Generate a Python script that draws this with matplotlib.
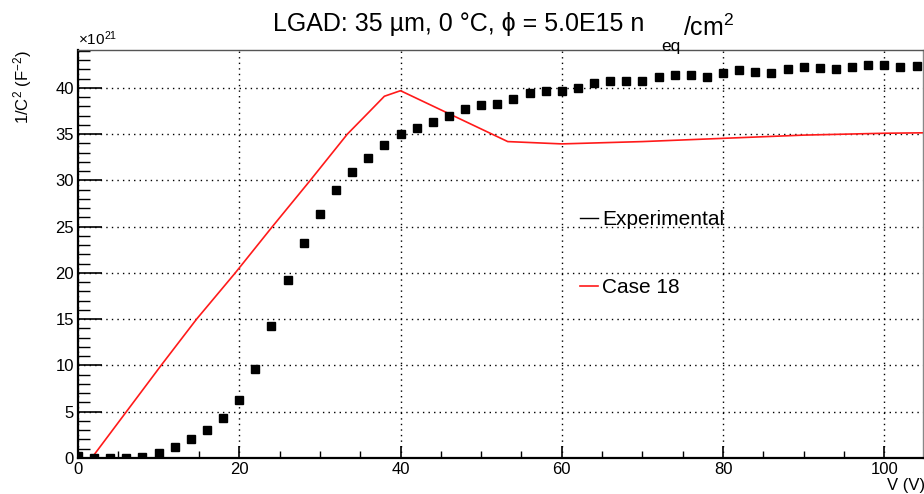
import matplotlib
matplotlib.use("Agg")
import matplotlib.pyplot as plt
from matplotlib.lines import Line2D
from matplotlib.ticker import MultipleLocator

plt.rcParams['font.family'] = ['Liberation Sans', 'DejaVu Sans']
plt.rcParams['mathtext.fontset'] = 'custom'
plt.rcParams['mathtext.rm'] = 'Liberation Sans'
plt.rcParams['mathtext.it'] = 'Liberation Sans:italic'

# experimental points (x1e21 F^-2), every 2 V
volt_exp = list(range(0, 106, 2))
c2_exp = [0.2, 0.0, 0.0, 0.0, 0.1, 0.5, 1.2, 2.0, 3.0, 4.3,
          6.3, 9.6, 14.3, 19.2, 23.2, 26.4, 29.0, 30.9, 32.4, 33.8,
          35.0, 35.7, 36.3, 37.0, 37.7, 38.2, 38.3, 38.8, 39.4, 39.7,
          39.7, 40.0, 40.5, 40.7, 40.7, 40.7, 41.2, 41.4, 41.4, 41.2,
          41.6, 41.9, 41.7, 41.6, 42.0, 42.3, 42.2, 42.0, 42.3, 42.5,
          42.5, 42.3, 42.4]

# simulation, case 18
volt_sim = [0, 1.7, 10.3, 14.7, 19.5, 24.1, 28.8, 33.4, 36.1, 38, 40,
            53.3, 60, 70, 80, 90, 100, 105]
c2_sim = [0, 0, 10.0, 15.0, 20.0, 25.0, 30.0, 35.0, 37.4, 39.1, 39.7,
          34.2, 33.95, 34.2, 34.55, 34.9, 35.1, 35.15]

fig = plt.figure(figsize=(9.24, 4.94), dpi=100)
ax = fig.add_axes([0.0844, 0.0729, 0.9145, 0.8259])

ax.plot(volt_exp, c2_exp, 's', color='black', markersize=6, zorder=3)
ax.plot(volt_sim, c2_sim, '-', color='#ff1a1a', linewidth=1.2, zorder=2)

ax.set_xlim(0, 104.8)
ax.set_ylim(0, 44.1)
ax.xaxis.set_major_locator(MultipleLocator(20))
ax.xaxis.set_minor_locator(MultipleLocator(5))
ax.yaxis.set_major_locator(MultipleLocator(5))
ax.yaxis.set_minor_locator(MultipleLocator(1))
ax.tick_params(axis='x', which='major', direction='in', length=8.4, width=1.2, labelsize=12, pad=3)
ax.tick_params(axis='x', which='minor', direction='in', length=4.8, width=1.0)
ax.tick_params(axis='y', which='major', direction='in', length=17, width=1.2, labelsize=12, pad=3)
ax.tick_params(axis='y', which='minor', direction='in', length=8.6, width=1.0)
ax.grid(True, which='major', color='black', linestyle=(0, (1, 3)), linewidth=1.0)

ax.spines['left'].set_linewidth(1.6)
ax.spines['bottom'].set_linewidth(1.6)
ax.spines['top'].set_color('#555555')
ax.spines['right'].set_color('#888888')
ax.spines['top'].set_linewidth(1.0)
ax.spines['right'].set_linewidth(1.0)

# title in ROOT style, subscript dropped low
t1 = fig.text(273 / 924, 1 - 30.7 / 494, 'LGAD: 35 µm, 0 °C, ϕ = 5.0E15 n',
              fontsize=18, ha='left', va='baseline')
fig.add_artist(plt.Annotation('eq', xy=(1, 0), xycoords=t1, xytext=(12, -11),
                              textcoords='offset points', fontsize=12.5,
                              ha='left', va='baseline'))
fig.add_artist(plt.Annotation('/cm$^{2}$', xy=(1, 0), xycoords=t1, xytext=(28, 0),
                              textcoords='offset points', fontsize=18,
                              ha='left', va='baseline'))

ax.set_ylabel(r'1/C$^{2}$ (F$^{-2}$)', fontsize=12, loc='top')
ax.yaxis.set_label_coords(-0.052, 1.0)
ax.text(0.0, 1.004, r'×10$^{21}$', transform=ax.transAxes, fontsize=11, ha='left', va='bottom')
ax.text(1.002, -0.049, 'V (V)', transform=ax.transAxes, fontsize=12, ha='right', va='top')

handles = [Line2D([], [], color='black', linewidth=1.0),
           Line2D([], [], color='#ff1a1a', linewidth=1.2)]
ax.legend(handles, ['Experimental', 'Case 18'], loc='upper left',
          bbox_to_anchor=(0.594, 0.607), frameon=False, fontsize=15,
          handlelength=0.85, handletextpad=0.2, labelspacing=2.35,
          borderpad=0, borderaxespad=0)

fig.savefig('out.png', dpi=100)
